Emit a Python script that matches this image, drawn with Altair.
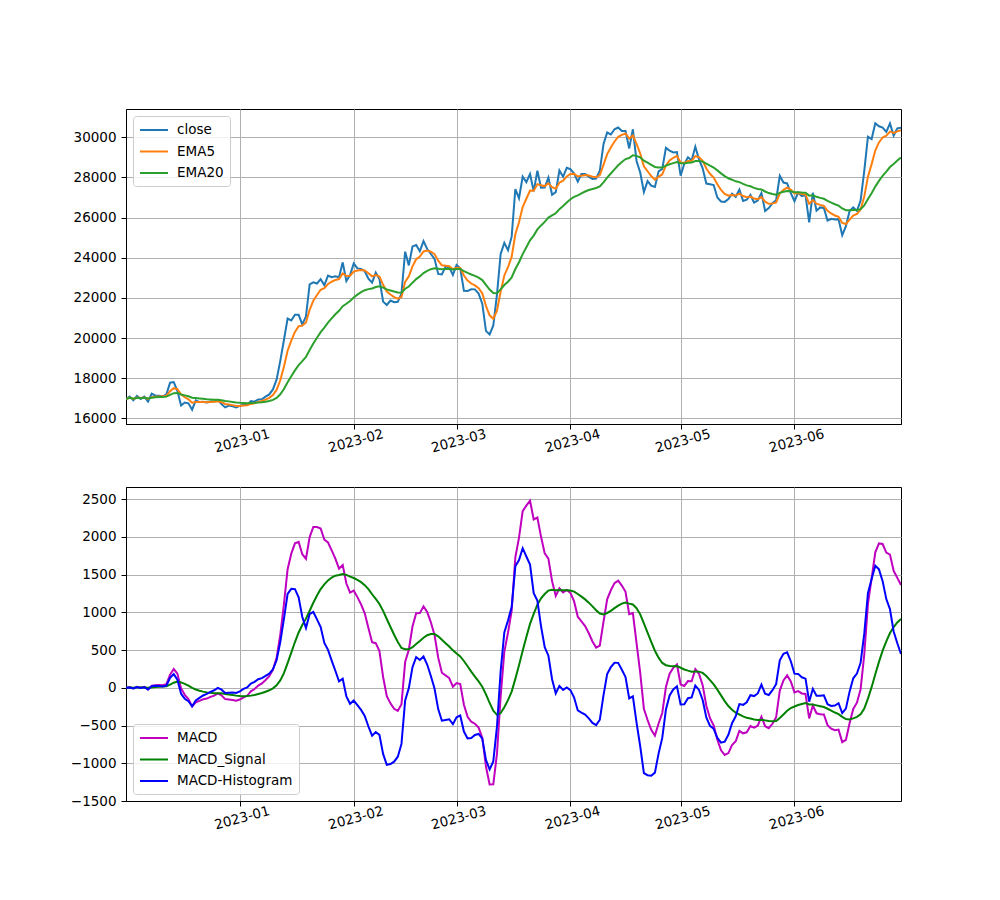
import altair as alt
import pandas as pd

# Daily close, 2022-12-01 .. 2023-06-30
dec = [16966, 17088, 16908, 17130, 16974, 17089, 16848, 17233, 17133, 17128, 17104, 17206, 17782, 17815, 17364, 16647,
       16795, 16757, 16439, 16907, 16817, 16830, 16796, 16848, 16842, 16919, 16717, 16553, 16642, 16603, 16548]
jan = [16625, 16688, 16680, 16863, 16836, 16951, 16955, 17091, 17197, 17446, 17934, 18869, 19909, 20976, 20881, 21169,
       21161, 20688, 21086, 22676, 22777, 22720, 22934, 22636, 23117, 23032, 23078, 23031, 23774, 22840, 23139]
feb = [23723, 23471, 23449, 23331, 22955, 22760, 23264, 22939, 21819, 21651, 21870, 21788, 21808, 22220, 24307, 23623,
       24565, 24641, 24328, 24829, 24437, 24189, 23947, 23198, 23175, 23561, 23523, 23147]
mar = [23646, 23475, 22362, 22353, 22436, 22429, 22219, 21718, 20363, 20187, 20632, 22163, 24197, 24746, 24375, 25052,
       27423, 26965, 28038, 27767, 28175, 27307, 28333, 27493, 27494, 27994, 27139, 27268, 28348, 28033, 28478]
apr = [28411, 28199, 27790, 28168, 28177, 28044, 27925, 27947, 28333, 29653, 30235, 30139, 30399, 30485, 30318, 30315,
       29445, 30397, 28822, 28245, 27276, 27817, 27592, 27525, 28307, 28422, 29473, 29340, 29248, 29268]
may = [28091, 28680, 29006, 28847, 29534, 28904, 28454, 27694, 27658, 27621, 27000, 26804, 26784, 26930, 27192, 27036,
       27398, 26832, 26890, 27129, 26753, 26851, 27225, 26334, 26476, 26719, 26868, 28085, 27746, 27702, 27219]
jun = [26819, 27249, 27075, 27119, 25760, 27238, 26346, 26508, 26480, 25851, 25940, 25902, 25918, 25124, 25576, 26327,
       26510, 26336, 26851, 28327, 30027, 29912, 30695, 30549, 30480, 30272, 30689, 30087, 30446, 30478]

ema5 = [16966, 17039, 16977, 17041, 17015, 17042, 16973, 17063, 17087, 17101, 17102, 17137, 17353, 17508, 17460, 17188,
        17057, 16957, 16784, 16825, 16822, 16825, 16815, 16826, 16831, 16861, 16813, 16726, 16698, 16666, 16627,
        16626, 16647, 16658, 16726, 16763, 16826, 16869, 16943, 17028, 17167, 17423, 17905, 18573, 19374, 19876,
        20307, 20592, 20624, 20778, 21411, 21866, 22151,
        22412, 22487, 22697, 22808, 22898, 22943, 23220, 23093, 23108, 23313, 23366, 23394, 23373, 23233, 23076,
        23138, 23072, 22654, 22320, 22170, 22043, 21964, 22050, 22802, 23076, 23572, 23928, 24062, 24317, 24357,
        24301, 24183, 23855, 23628, 23606, 23578, 23434, 23505, 23495, 23117, 22863, 22720, 22623, 22488, 22232,
        21609, 21135, 20967, 21366, 22310, 23122, 23539, 24044,
        25170, 25768, 26525, 26939, 27351, 27336, 27669, 27610, 27571, 27712, 27521, 27437, 27741, 27838, 28051,
        28171, 28180, 28050, 28090, 28119, 28094, 28038, 28007, 28116, 28628, 29164, 29489, 29792, 30023, 30121,
        30186, 29939, 30092, 29668, 29194, 28555, 28309, 28070, 27888, 28028, 28159, 28597, 28845, 28979, 29075,
        28747, 28725, 28819, 28828, 29063, 29010, 28825, 28448,
        28185, 27997, 27664, 27378, 27180, 27097, 27128, 27098, 27198, 27076, 27014, 27052, 26952, 26919, 27021,
        26792, 26687, 26697, 26754, 27198, 27381, 27488, 27398, 27205, 27220, 27171, 27154, 26689, 26872, 26697,
        26634, 26583, 26339, 26206, 26105, 26042, 25736, 25683, 25898, 26102, 26180, 26404, 27045, 28039, 28663,
        29340, 29743, 29989, 30083, 30285, 30219, 30295, 30356]
ema20 = [16966, 17030, 16985, 17027, 17014, 17030, 16996, 17037, 17052, 17064, 17069, 17088, 17179, 17259, 17272, 17197,
         17151, 17106, 17031, 17017, 16996, 16978, 16959, 16947, 16936, 16934, 16912, 16876, 16852, 16827, 16799,
         16782, 16773, 16764, 16773, 16780, 16796, 16812, 16839, 16874, 16929, 17026, 17204, 17465, 17803, 18099,
         18394, 18660, 18854, 19068, 19414, 19736, 20022,
         20300, 20524, 20772, 20988, 21187, 21363, 21594, 21712, 21849, 22027, 22165, 22288, 22387, 22441, 22472,
         22547, 22585, 22512, 22430, 22376, 22320, 22271, 22266, 22461, 22572, 22762, 22941, 23073, 23240, 23354,
         23434, 23483, 23455, 23429, 23441, 23449, 23420, 23442, 23445, 23342, 23248, 23170, 23100, 23016, 22892,
         22651, 22417, 22247, 22239, 22425, 22646, 22811, 23024,
         23443, 23779, 24184, 24526, 24873, 25105, 25412, 25611, 25790, 26000, 26108, 26219, 26422, 26575, 26756,
         26914, 27036, 27108, 27209, 27301, 27372, 27425, 27474, 27556, 27756, 27992, 28196, 28406, 28604, 28767,
         28915, 28965, 29102, 29075, 28996, 28832, 28735, 28627, 28522, 28501, 28494, 28587, 28659, 28715, 28767,
         28703, 28701, 28730, 28741, 28817, 28825, 28790, 28685,
         28587, 28495, 28353, 28205, 28070, 27961, 27888, 27807, 27768, 27679, 27604, 27559, 27482, 27422, 27403,
         27301, 27223, 27175, 27145, 27235, 27284, 27323, 27314, 27266, 27265, 27247, 27235, 27094, 27108, 27035,
         26985, 26937, 26834, 26748, 26668, 26596, 26456, 26372, 26368, 26382, 26377, 26422, 26604, 26930, 27214,
         27545, 27831, 28084, 28292, 28520, 28670, 28839, 28995]

macd = [0, 9, -8, 14, 1, 12, -22, 27, 35, 38, 33, 49, 174, 248, 188, -9, -93, -149, -247, -192, -173, -153, -143,
        -121, -105, -74, -99, -150, -154, -161, -172, -156, -126, -106, -47, -17, 29, 57, 104, 154, 238, 396, 701,
        1108, 1571, 1777, 1913, 1932, 1769, 1709, 1996, 2130, 2129,
        2111, 1963, 1925, 1821, 1711, 1579, 1626, 1381, 1260, 1286, 1201, 1106, 986, 792, 604, 591, 487, 143, -110,
        -206, -278, -307, -217, 341, 504, 811, 988, 989, 1077, 1003, 868, 701, 399, 199, 164, 129, 14, 63, 50, -225,
        -385, -450, -476, -527, -661, -1043, -1282, -1279, -873, -116, 475, 729, 1019,
        1727, 1990, 2341, 2413, 2478, 2231, 2256, 2000, 1781, 1712, 1413, 1218, 1319, 1263, 1295, 1257, 1144, 942,
        881, 818, 722, 613, 533, 560, 872, 1172, 1292, 1386, 1419, 1354, 1271, 974, 990, 593, 198, -278, -427, -557,
        -633, -473, -334, 10, 186, 264, 308, 44, 24, 89, 87, 247, 185, 35, -237,
        -403, -499, -688, -828, -890, -865, -760, -709, -570, -603, -590, -506, -529, -503, -382, -509, -536, -477,
        -391, -37, 97, 164, 85, -61, -45, -75, -81, -405, -236, -338, -351, -354, -495, -543, -563, -554, -720,
        -690, -470, -280, -197, -19, 441, 1109, 1449, 1795, 1912, 1905, 1791, 1765, 1550, 1456, 1361]
signal = [0, 5, 0, 4, 3, 5, 0, 5, 9, 14, 16, 21, 41, 67, 82, 71, 52, 29, -2, -23, -39, -51, -61, -67, -71, -71, -74,
          -82, -89, -96, -104, -109, -111, -110, -104, -96, -83, -70, -53, -33, -7, 32, 97, 194, 327, 466, 606, 733,
          832, 916, 1020, 1126, 1222,
          1307, 1370, 1423, 1461, 1485, 1494, 1507, 1495, 1472, 1454, 1430, 1399, 1360, 1306, 1239, 1177, 1111, 1019,
          911, 805, 702, 606, 527, 510, 509, 538, 581, 620, 663, 696, 712, 711, 681, 635, 590, 546, 496, 455, 416, 355,
          285, 215, 149, 84, 13, -87, -201, -304, -358, -335, -258, -164, -51,
          118, 297, 491, 674, 846, 978, 1100, 1185, 1242, 1287, 1299, 1291, 1294, 1291, 1291, 1288, 1274, 1243, 1208,
          1171, 1128, 1079, 1027, 983, 972, 991, 1020, 1055, 1089, 1115, 1130, 1115, 1103, 1054, 973, 854, 732, 609,
          491, 399, 329, 299, 288, 286, 288, 265, 242, 227, 214, 217, 214, 197, 156,
          102, 45, -25, -101, -176, -242, -291, -331, -354, -378, -398, -408, -420, -428, -423, -432, -441, -445, -440,
          -401, -354, -305, -268, -248, -229, -214, -201, -221, -222, -233, -244, -255, -278, -303, -328, -349, -385,
          -414, -419, -406, -386, -351, -276, -144, 8, 178, 343, 492, 616, 725, 804, 866, 913]
histogram = [0, 4, -8, 10, -2, 7, -22, 22, 26, 24, 16, 28, 133, 181, 106, -80, -145, -178, -245, -169, -134, -102, -82,
             -54, -33, -2, -25, -68, -65, -64, -68, -47, -15, 5, 57, 79, 113, 127, 157, 187, 245, 364, 604, 914, 1244,
             1311, 1307, 1199, 937, 793, 977, 1004, 907,
             804, 593, 502, 360, 226, 85, 120, -114, -212, -169, -229, -293, -374, -513, -635, -586, -624, -876,
             -1021, -1011, -979, -913, -744, -168, -5, 273, 407, 369, 414, 308, 156, -10, -282, -436, -426, -417,
             -482, -391, -366, -580, -670, -665, -625, -612, -674, -955, -1081, -976, -515, 219, 733, 892, 1070,
             1609, 1693, 1849, 1739, 1632, 1253, 1156, 814, 539, 425, 114, -73, 25, -28, 4, -31, -130, -300, -328,
             -354, -406, -466, -494, -423, -100, 181, 273, 331, 330, 239, 142, -141, -113, -461, -775, -1131, -1158,
             -1166, -1124, -872, -664, -288, -102, -21, 20, -220, -218, -138, -127, 30, -29, -162, -393,
             -505, -544, -664, -727, -714, -623, -469, -378, -216, -226, -192, -98, -110, -75, 41, -78, -95, -32, 49,
             364, 451, 469, 352, 187, 184, 139, 121, -184, -14, -105, -107, -99, -217, -240, -236, -205, -335, -276,
             -51, 126, 189, 332, 717, 1253, 1441, 1617, 1569, 1413, 1175, 1040, 746, 590, 448]

close = dec + jan + feb + mar + apr + may + jun
dates = pd.date_range("2022-12-01", periods=len(close), freq="D").strftime("%Y-%m-%d")

top_names = ["close", "EMA5", "EMA20"]
top_colors = ["#1f77b4", "#ff7f0e", "#2ca02c"]
bot_names = ["MACD", "MACD_Signal", "MACD-Histogram"]
bot_colors = ["#bf00bf", "#008000", "#0000ff"]

top_df = pd.concat([pd.DataFrame({"date": dates, "value": v, "series": n, "k": i})
                    for i, (n, v) in enumerate(zip(top_names, [close, ema5, ema20]))])
bot_df = pd.concat([pd.DataFrame({"date": dates, "value": v, "series": n, "k": i})
                    for i, (n, v) in enumerate(zip(bot_names, [macd, signal, histogram]))])

xdom = [alt.DateTime(year=2022, month=12, date=1, utc=True), alt.DateTime(year=2023, month=6, date=30, utc=True)]
xticks = [alt.DateTime(year=2023, month=m, date=1, utc=True) for m in range(1, 7)]

FS = 13.5


def xenc():
    return alt.X("date:T", scale=alt.Scale(type="utc", domain=xdom, nice=False),
                 axis=alt.Axis(values=xticks, format="%Y-%m", labelAngle=-15, title=None,
                               labelAlign="center", labelBaseline="top", labelPadding=5))


def legend(orient):
    return alt.Legend(title=None, orient=orient, offset=7, symbolType="M-2,0H2", symbolSize=196,
                      symbolStrokeWidth=2, labelFontSize=FS, labelFont="DejaVu Sans", rowPadding=6.5,
                      padding=6, fillColor="rgba(255,255,255,0.8)", strokeColor="#cccccc", cornerRadius=3,
                      labelColor="black", symbolOffset=7, labelOffset=15)


top = alt.Chart(top_df).mark_line(strokeWidth=2, clip=True).encode(
    x=xenc(),
    y=alt.Y("value:Q", scale=alt.Scale(domain=[15726, 31408], nice=False, zero=False),
            axis=alt.Axis(values=list(range(16000, 30001, 2000)), format="d", title=None, labelPadding=5)),
    color=alt.Color("series:N", scale=alt.Scale(domain=top_names, range=top_colors), legend=legend("top-left")),
    order="k:Q",
).properties(width=775, height=315)

bottom = alt.Chart(bot_df).mark_line(strokeWidth=2, clip=True).encode(
    x=xenc(),
    y=alt.Y("value:Q", scale=alt.Scale(domain=[-1500, 2660], nice=False, zero=False),
            axis=alt.Axis(values=list(range(-1500, 2501, 500)), format="d", title=None, labelPadding=5)),
    color=alt.Color("series:N", scale=alt.Scale(domain=bot_names, range=bot_colors), legend=legend("bottom-left")),
).properties(width=775, height=314)

chart = alt.vconcat(top, bottom, spacing=63, bounds="flush").resolve_scale(color="independent").properties(
    padding={"left": 69, "top": 108, "right": 5, "bottom": 5},
).configure(font="DejaVu Sans").configure_view(stroke="black", strokeWidth=1).configure_axis(
    labelFontSize=FS, labelFont="DejaVu Sans", labelColor="black", tickColor="black", tickSize=5,
    domainColor="black", gridColor="#b0b0b0", gridWidth=1, grid=True,
)

chart.save("out.html", embed_options={"renderer": "svg", "actions": False})
